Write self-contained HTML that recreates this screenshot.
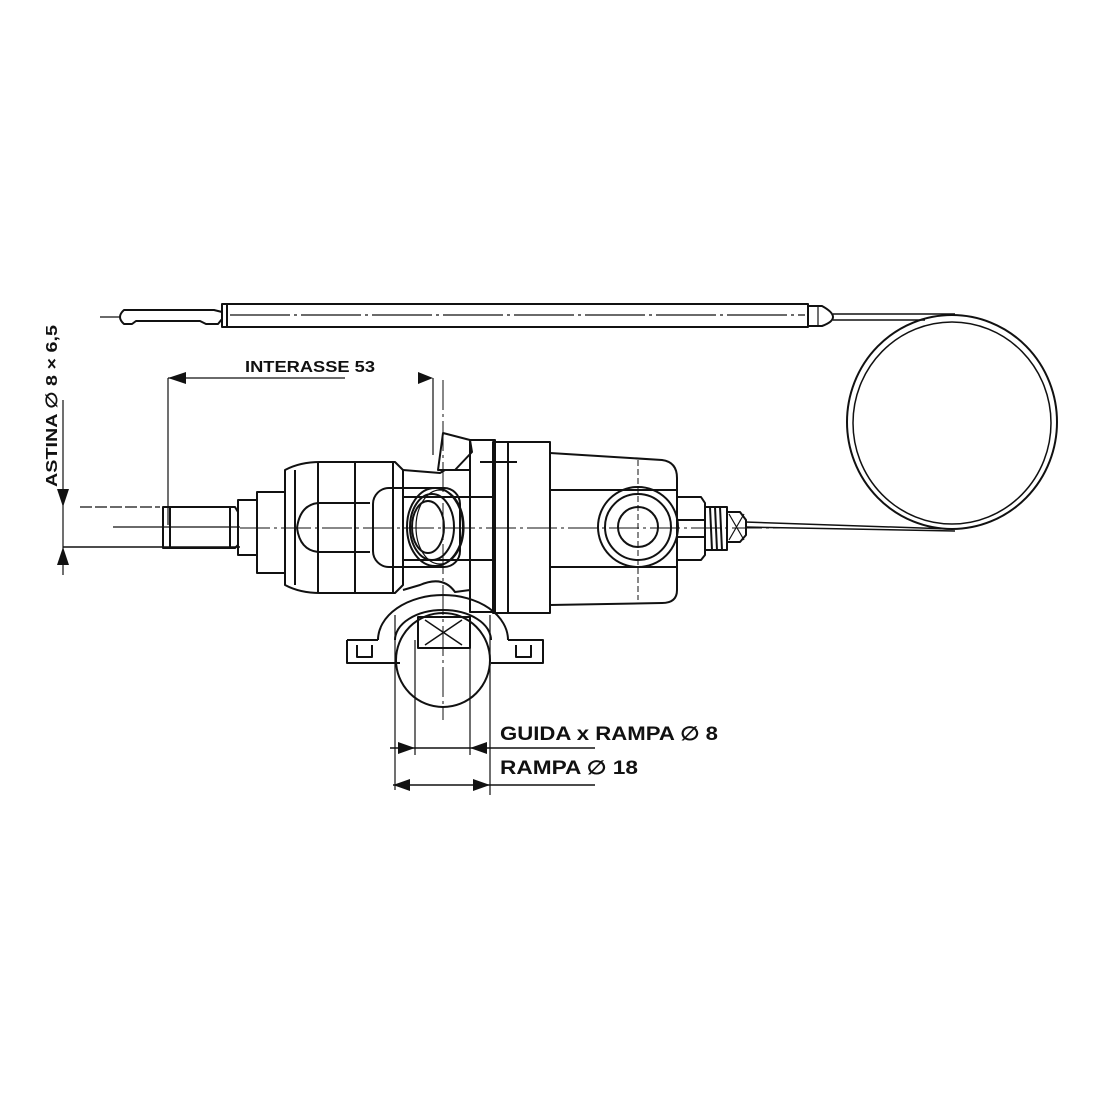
<!DOCTYPE html>
<html><head><meta charset="utf-8"><style>
html,body{margin:0;padding:0;background:#fff;}
svg{display:block}
text{font-family:"Liberation Sans",sans-serif;font-weight:bold;fill:#111}
</style></head><body>
<svg width="1100" height="1100" viewBox="0 0 1100 1100" xmlns="http://www.w3.org/2000/svg">
<g fill="none" stroke="#111" stroke-width="2" stroke-linejoin="round">
<!-- bulb -->
<line x1="100" y1="317" x2="120" y2="317" stroke-width="1.2"/>
<path d="M124 310 Q116 317 124 324 L132 324 L136 321 L200 321 L206 324 L218 324 L222 319 L222 312 L214 310 Z"/>
<path d="M222 304 L808 304 L808 327 L222 327 Z"/>
<line x1="227" y1="304" x2="227" y2="327"/>
<line x1="230" y1="315" x2="805" y2="315" stroke-width="1.2" stroke-dasharray="60 4 3 4"/>
<path d="M808 306 L822 306 Q833 312 833 317 Q833 322 822 326 L808 326"/>
<line x1="818" y1="307" x2="818" y2="325" stroke-width="1.2"/>
<!-- capillary -->
<path d="M833 314 L955 314 M833 320 L925 320" stroke-width="1.5"/>
<ellipse cx="952" cy="422" rx="105" ry="107"/>
<ellipse cx="952" cy="423" rx="99" ry="101" stroke-width="1.5"/>
<path d="M745 522 L950 529 M745 527 L955 531" stroke-width="1.5"/>
<!-- dimension INTERASSE -->
<line x1="168" y1="378" x2="168" y2="525" stroke-width="1.2"/>
<line x1="433" y1="378" x2="433" y2="455" stroke-width="1.2"/>
<line x1="168" y1="378" x2="345" y2="378" stroke-width="1.2"/>
<!-- ASTINA dims -->
<line x1="63" y1="400" x2="63" y2="575" stroke-width="1.2"/>
<line x1="80" y1="507" x2="160" y2="507" stroke-width="1.2" stroke-dasharray="12 3"/>
<line x1="63" y1="547" x2="240" y2="547" stroke-width="1.5"/>
<line x1="113" y1="527" x2="240" y2="527" stroke-width="1.2"/>
<!-- centerlines -->
<line x1="240" y1="528" x2="780" y2="528" stroke-width="1" stroke-dasharray="30 4 3 4"/>
<line x1="443" y1="380" x2="443" y2="720" stroke-width="1" stroke-dasharray="30 4 3 4"/>
<!-- left stem -->
<path d="M163 507 L235 507 L238 512 L238 545 L235 548 L163 548 Z"/>
<line x1="170" y1="507" x2="170" y2="548"/>
<line x1="230" y1="507" x2="230" y2="548"/>
<path d="M238 500 L257 500 L257 555 L238 555 Z"/>
<path d="M257 492 L285 492 L285 573 L257 573 Z"/>
<!-- dome -->
<path d="M285 470 Q300 462 320 462 L395 462 L403 470 L403 585 L395 593 L320 593 Q300 593 285 585 Z"/>
<line x1="295" y1="470" x2="295" y2="585"/>
<line x1="318" y1="462" x2="318" y2="593"/>
<line x1="355" y1="462" x2="355" y2="593"/>
<line x1="393" y1="462" x2="393" y2="593"/>
<path d="M370 503 L318 503 Q300 505 297 528 Q300 550 318 552 L370 552"/>
<!-- central block -->
<path d="M403 470 L440 473 L445 470 L470 470 L470 440 L495 440 L495 612 L470 612 L470 590 L455 592 Q443 575 420 585 L403 590"/>
<line x1="403" y1="497" x2="493" y2="497"/>
<line x1="403" y1="560" x2="493" y2="560"/>
<line x1="470" y1="470" x2="470" y2="590"/>
<path d="M443 433 L470 440 L472 452 L455 470 L438 470 Z"/>
<!-- inlet boss -->
<rect x="373" y="488" width="87" height="79" rx="16"/>
<ellipse cx="435" cy="527" rx="28" ry="39"/>
<ellipse cx="432" cy="527" rx="22" ry="33"/>
<ellipse cx="428" cy="527" rx="16" ry="26"/>
<ellipse cx="440" cy="527" rx="24" ry="37" stroke-width="1.2"/>
<!-- flange disc -->
<path d="M493 442 L550 442 L550 613 L493 613 Z"/>
<line x1="508" y1="442" x2="508" y2="613"/>
<line x1="480" y1="462" x2="517" y2="462"/>
<!-- right body -->
<path d="M550 453 L662 460 Q677 462 677 478 L677 590 Q677 603 662 603 L550 605"/>
<line x1="550" y1="490" x2="677" y2="490"/>
<line x1="550" y1="567" x2="677" y2="567"/>
<circle cx="638" cy="527" r="40"/>
<circle cx="638" cy="527" r="33"/>
<circle cx="638" cy="527" r="20"/>
<line x1="638" y1="460" x2="638" y2="600" stroke-width="1" stroke-dasharray="6 3"/>
<!-- nut & fitting -->
<path d="M677 497 L701 497 L705 503 L705 555 L701 560 L677 560 Z"/>
<line x1="677" y1="520" x2="705" y2="520"/>
<line x1="677" y1="537" x2="705" y2="537"/>
<path d="M705 507 L727 507 L727 550 L705 550 Z"/>
<path d="M710 507 L712 550 M715 507 L717 550 M720 507 L722 550"/>
<path d="M727 512 L740 512 L746 520 L746 535 L740 542 L727 542 Z"/>
<path d="M729 514 L744 540 M744 514 L729 540" stroke-width="1.2"/>
<!-- clamp -->
<path d="M378 640 A65 45 0 0 1 508 640"/>
<path d="M395 640 A48 30 0 0 1 491 640"/>
<path d="M347 640 L378 640 M347 640 L347 663 L400 663 M491 663 L543 663 L543 640 L508 640"/>
<path d="M357 645 L357 657 L372 657 L372 645 M516 645 L516 657 L531 657 L531 645"/>
<circle cx="443" cy="660" r="47"/>
<rect x="418" y="617" width="52" height="31"/>
<path d="M425 620 L462 645 M462 620 L425 645" stroke-width="1.5"/>
<!-- vertical dims -->
<line x1="395" y1="615" x2="395" y2="790" stroke-width="1.2"/>
<line x1="415" y1="640" x2="415" y2="755" stroke-width="1.2"/>
<line x1="470" y1="640" x2="470" y2="755" stroke-width="1.2"/>
<line x1="490" y1="615" x2="490" y2="795" stroke-width="1.2"/>
<line x1="390" y1="748" x2="595" y2="748" stroke-width="1.5"/>
<line x1="393" y1="785" x2="595" y2="785" stroke-width="1.5"/>
</g>
<!-- arrowheads -->
<g fill="#111">
<polygon points="168,378 186,372 186,384"/>
<polygon points="418,372 433,378 418,384"/>
<polygon points="63,507 57,489 69,489"/>
<polygon points="63,547 57,565 69,565"/>
<polygon points="415,748 398,742 398,754"/>
<polygon points="470,748 487,742 487,754"/>
<polygon points="393,785 410,779 410,791"/>
<polygon points="490,785 473,779 473,791"/>
</g>
<text x="245" y="372" font-size="16" textLength="130" lengthAdjust="spacingAndGlyphs">INTERASSE 53</text>
<text transform="translate(57,487) rotate(-90)" font-size="16" textLength="162" lengthAdjust="spacingAndGlyphs">ASTINA ∅ 8 × 6,5</text>
<text x="500" y="740" font-size="19" textLength="218" lengthAdjust="spacingAndGlyphs">GUIDA x RAMPA ∅ 8</text>
<text x="500" y="774" font-size="19" textLength="138" lengthAdjust="spacingAndGlyphs">RAMPA ∅ 18</text>
</svg>
</body></html>
